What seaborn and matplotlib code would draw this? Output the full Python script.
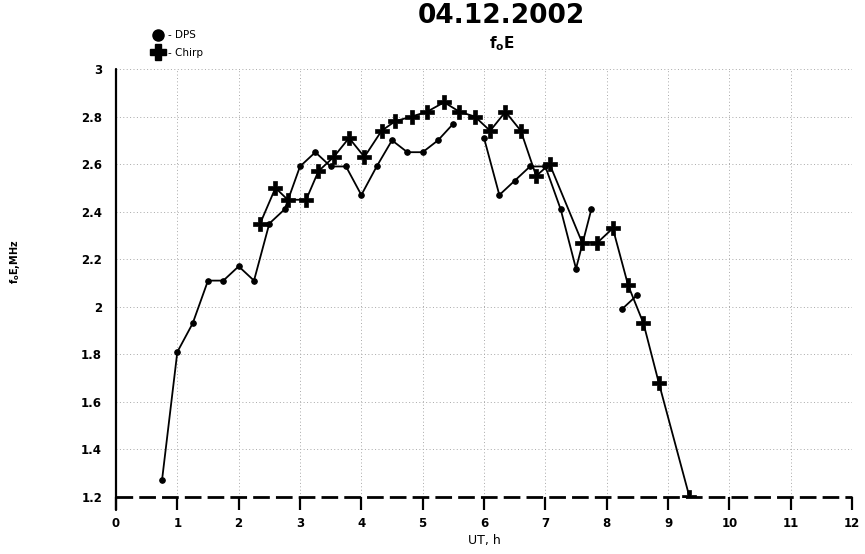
import matplotlib
matplotlib.use('Agg')
import matplotlib.pyplot as plt
import seaborn as sns
import pandas as pd
from matplotlib.lines import Line2D

# ---- data ----
dps_t = [0.75, 1.0, 1.25, 1.5, 1.75, 2.0, 2.25, 2.5, 2.75, 3.0, 3.25, 3.5, 3.75, 4.0,
         4.25, 4.5, 4.75, 5.0, 5.25, 5.5,
         6.0, 6.25, 6.5, 6.75, 7.0, 7.25, 7.5, 7.75,
         8.25, 8.5]
dps_v = [1.27, 1.81, 1.93, 2.11, 2.11, 2.17, 2.11, 2.35, 2.41, 2.59, 2.65, 2.59, 2.59, 2.47,
         2.59, 2.70, 2.65, 2.65, 2.70, 2.77,
         2.71, 2.47, 2.53, 2.59, 2.59, 2.41, 2.16, 2.41,
         1.99, 2.05]
dps_seg = [0] * 20 + [1] * 8 + [2] * 2

chirp_t = [2.35, 2.6, 2.8, 3.1, 3.3, 3.55, 3.8, 4.05, 4.33, 4.55, 4.82, 5.07, 5.35, 5.6,
           5.85, 6.1, 6.35, 6.6, 6.85, 7.07, 7.6, 7.85, 8.1, 8.35, 8.6, 8.85, 9.35]
chirp_v = [2.35, 2.50, 2.45, 2.45, 2.57, 2.63, 2.71, 2.63, 2.74, 2.78, 2.80, 2.82, 2.86, 2.82,
           2.80, 2.74, 2.82, 2.74, 2.55, 2.60, 2.27, 2.27, 2.33, 2.09, 1.93, 1.68, 1.20]

x_ticks = list(range(0, 13))
y_ticks = [1.2, 1.4, 1.6, 1.8, 2.0, 2.2, 2.4, 2.6, 2.8, 3.0]
y_tick_labels = ['1.2', '1.4', '1.6', '1.8', '2', '2.2', '2.4', '2.6', '2.8', '3']

dps_df = pd.DataFrame({'t': dps_t, 'v': dps_v, 'seg': dps_seg})
chirp_df = pd.DataFrame({'t': chirp_t, 'v': chirp_v})

sns.set_theme(style='white')
plt.rcParams['font.family'] = ['DejaVu Sans']
plt.rcParams.update({'text.color': 'black', 'axes.labelcolor': 'black',
                     'xtick.color': 'black', 'ytick.color': 'black'})

fig = plt.figure(figsize=(8.65, 5.54), dpi=100)
ax = fig.add_axes([0.1341, 0.1029, 0.8509, 0.7726])

sns.lineplot(data=dps_df, x='t', y='v', units='seg', estimator=None, color='black',
             lw=1.3, marker='o', markersize=4, markeredgecolor='black', ax=ax,
             legend=False, zorder=5)
sns.lineplot(data=chirp_df, x='t', y='v', color='black', lw=1.3, marker='P',
             markersize=10, markeredgecolor='black', markeredgewidth=0.5, ax=ax,
             legend=False, zorder=6)

ax.set_xlim(0, 12)
ax.set_ylim(1.2, 3.0)
ax.set_xticks(x_ticks)
ax.set_yticks(y_ticks)
ax.set_yticklabels(y_tick_labels)

ax.grid(True, color='#a8a8a8', linestyle=(0, (1, 2.5)), linewidth=0.7)

for s in ['top', 'right', 'left']:
    ax.spines[s].set_visible(False)
ax.spines['bottom'].set_color('none')

# y axis line (extends slightly below the baseline like the original)
ax.axvline(0, ymin=-0.030, ymax=1.0, color='black', lw=1.6, clip_on=False, zorder=4)
# dashed baseline at 1.2
ax.axhline(1.2, color='black', lw=2.0, linestyle='--', dashes=(6, 2.2), clip_on=False, zorder=4)

ax.tick_params(axis='y', left=False, length=0, pad=10, labelsize=8.5)
ax.tick_params(axis='x', which='major', bottom=True, labelbottom=True, direction='out',
               length=9.5, width=1.6, color='black', pad=5, labelsize=8.5)
for lab in ax.get_xticklabels() + ax.get_yticklabels():
    lab.set_fontweight('bold')

ax.set_xlabel('UT, h', fontsize=9, labelpad=3)
ax.set_ylabel(r'f$_\mathregular{o}$E,MHz', fontsize=7, fontweight='bold')
ax.yaxis.set_label_coords(-0.128, 0.55)

handles = [Line2D([], [], marker='o', ls='none', color='black', markersize=8),
           Line2D([], [], marker='P', ls='none', color='black', markersize=11)]
fig.legend(handles, ['- DPS', '- Chirp'], loc='upper left',
           bbox_to_anchor=(147 / 865, 1 - 25 / 554), bbox_transform=fig.transFigure,
           frameon=False, prop={'size': 7.5}, handletextpad=0.3,
           labelspacing=0.7, borderpad=0, handlelength=1.2)

fig.text(0.58, 0.971, '04.12.2002', ha='center', va='center', fontsize=19,
         fontweight='bold')
fig.text(0.58, 0.921, r'$\mathbf{f_{o}E}$', ha='center', va='center', fontsize=11)

fig.savefig('out.png', dpi=100)
